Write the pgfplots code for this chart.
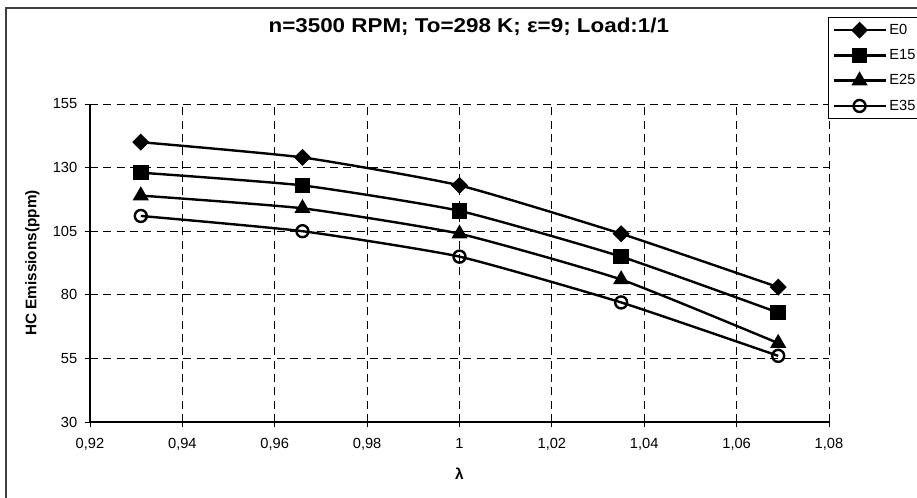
\documentclass[border=0pt]{standalone}
\usepackage{pgfplots}
\pgfplotsset{compat=1.18}
\usepackage{fontspec}
\setmainfont{Liberation Sans}
\begin{document}
\begin{tikzpicture}[x=0.75pt,y=0.75pt]
\useasboundingbox (0,0) rectangle (917,497);
\clip (0,0) rectangle (917,497);
\fill[white] (0,0) rectangle (917,497);
\draw[line width=1.5pt, black!75] (6,-10) -- (6,489) -- (930,489);
\begin{axis}[
  at={(67.5pt,56.25pt)}, anchor=south west,
  scale only axis, width=554.25pt, height=238.5pt,
  xmin=0.92, xmax=1.08, ymin=30, ymax=155,
  xtick={0.92,0.94,0.96,0.98,1,1.02,1.04,1.06,1.08},
  ytick={30,55,80,105,130,155},
  axis x line*=bottom, axis y line*=left,
  axis line style={-, line width=0.8pt},
  grid=major,
  major grid style={dashed, black, line width=0.6pt, dash pattern=on 6pt off 4pt},
  tick style={black, line width=0.6pt},
  major tick length=4pt,
  tick align=outside,
  xticklabel style={/pgf/number format/use comma, /pgf/number format/fixed, /pgf/number format/precision=2},
  /pgf/number format/assume math mode=true,
  ticklabel style={font=\fontsize{11}{11}\selectfont},
  xticklabel shift=5pt,
  yticklabel shift=2pt,
  xlabel={\textbf{λ}},
  xlabel style={font=\fontsize{11.5}{11.5}\selectfont, yshift=-6pt},
  ylabel={HC Emissions(ppm)},
  ylabel style={font=\bfseries\fontsize{11.5}{11.5}\selectfont, yshift=3pt},
  title={\scalebox{1.12}[1]{n=3500 RPM; To=298 K; ε=9; Load:1/1}},
  title style={font=\bfseries\fontsize{15}{15}\selectfont, at={(0.5,1)}, yshift=42pt, anchor=south, xshift=7pt},
  legend style={at={(0.9986,1.2736)}, anchor=north west, draw=black, line width=0.6pt,
    font=\fontsize{11}{11}\selectfont, row sep=5.8pt, inner xsep=3pt, inner ysep=3pt,
    text width=60pt},
  legend cell align=left,
  legend image code/.code={\draw[#1, mark repeat=2, mark phase=2] plot coordinates {(0pt,0pt) (19.5pt,0pt) (39pt,0pt)};},
  every axis plot/.append style={black, line width=1.8pt, smooth, tension=0.3},
]
\addplot[mark=square*, mark options={rotate=45, mark size=4pt, solid, line width=1pt}] coordinates {
(0.931,140) (0.966,134) (1.0,123) (1.035,104) (1.069,83)};
\addlegendentry{E0}
\addplot[mark=square*, mark options={mark size=5.3pt, solid, line width=1pt}] coordinates {
(0.931,128) (0.966,123) (1.0,113) (1.035,95) (1.069,73)};
\addlegendentry{E15}
\addplot[mark=triangle*, mark options={mark size=6pt, solid, line width=1pt}] coordinates {
(0.931,119) (0.966,114) (1.0,104) (1.035,86) (1.069,61)};
\addlegendentry{E25}
\addplot[mark=o, mark options={mark size=4.5pt, solid, fill=white, line width=1.8pt}] coordinates {
(0.931,111) (0.966,105) (1.0,95) (1.035,77) (1.069,56)};
\addlegendentry{E35}
\end{axis}
\end{tikzpicture}
\end{document}
